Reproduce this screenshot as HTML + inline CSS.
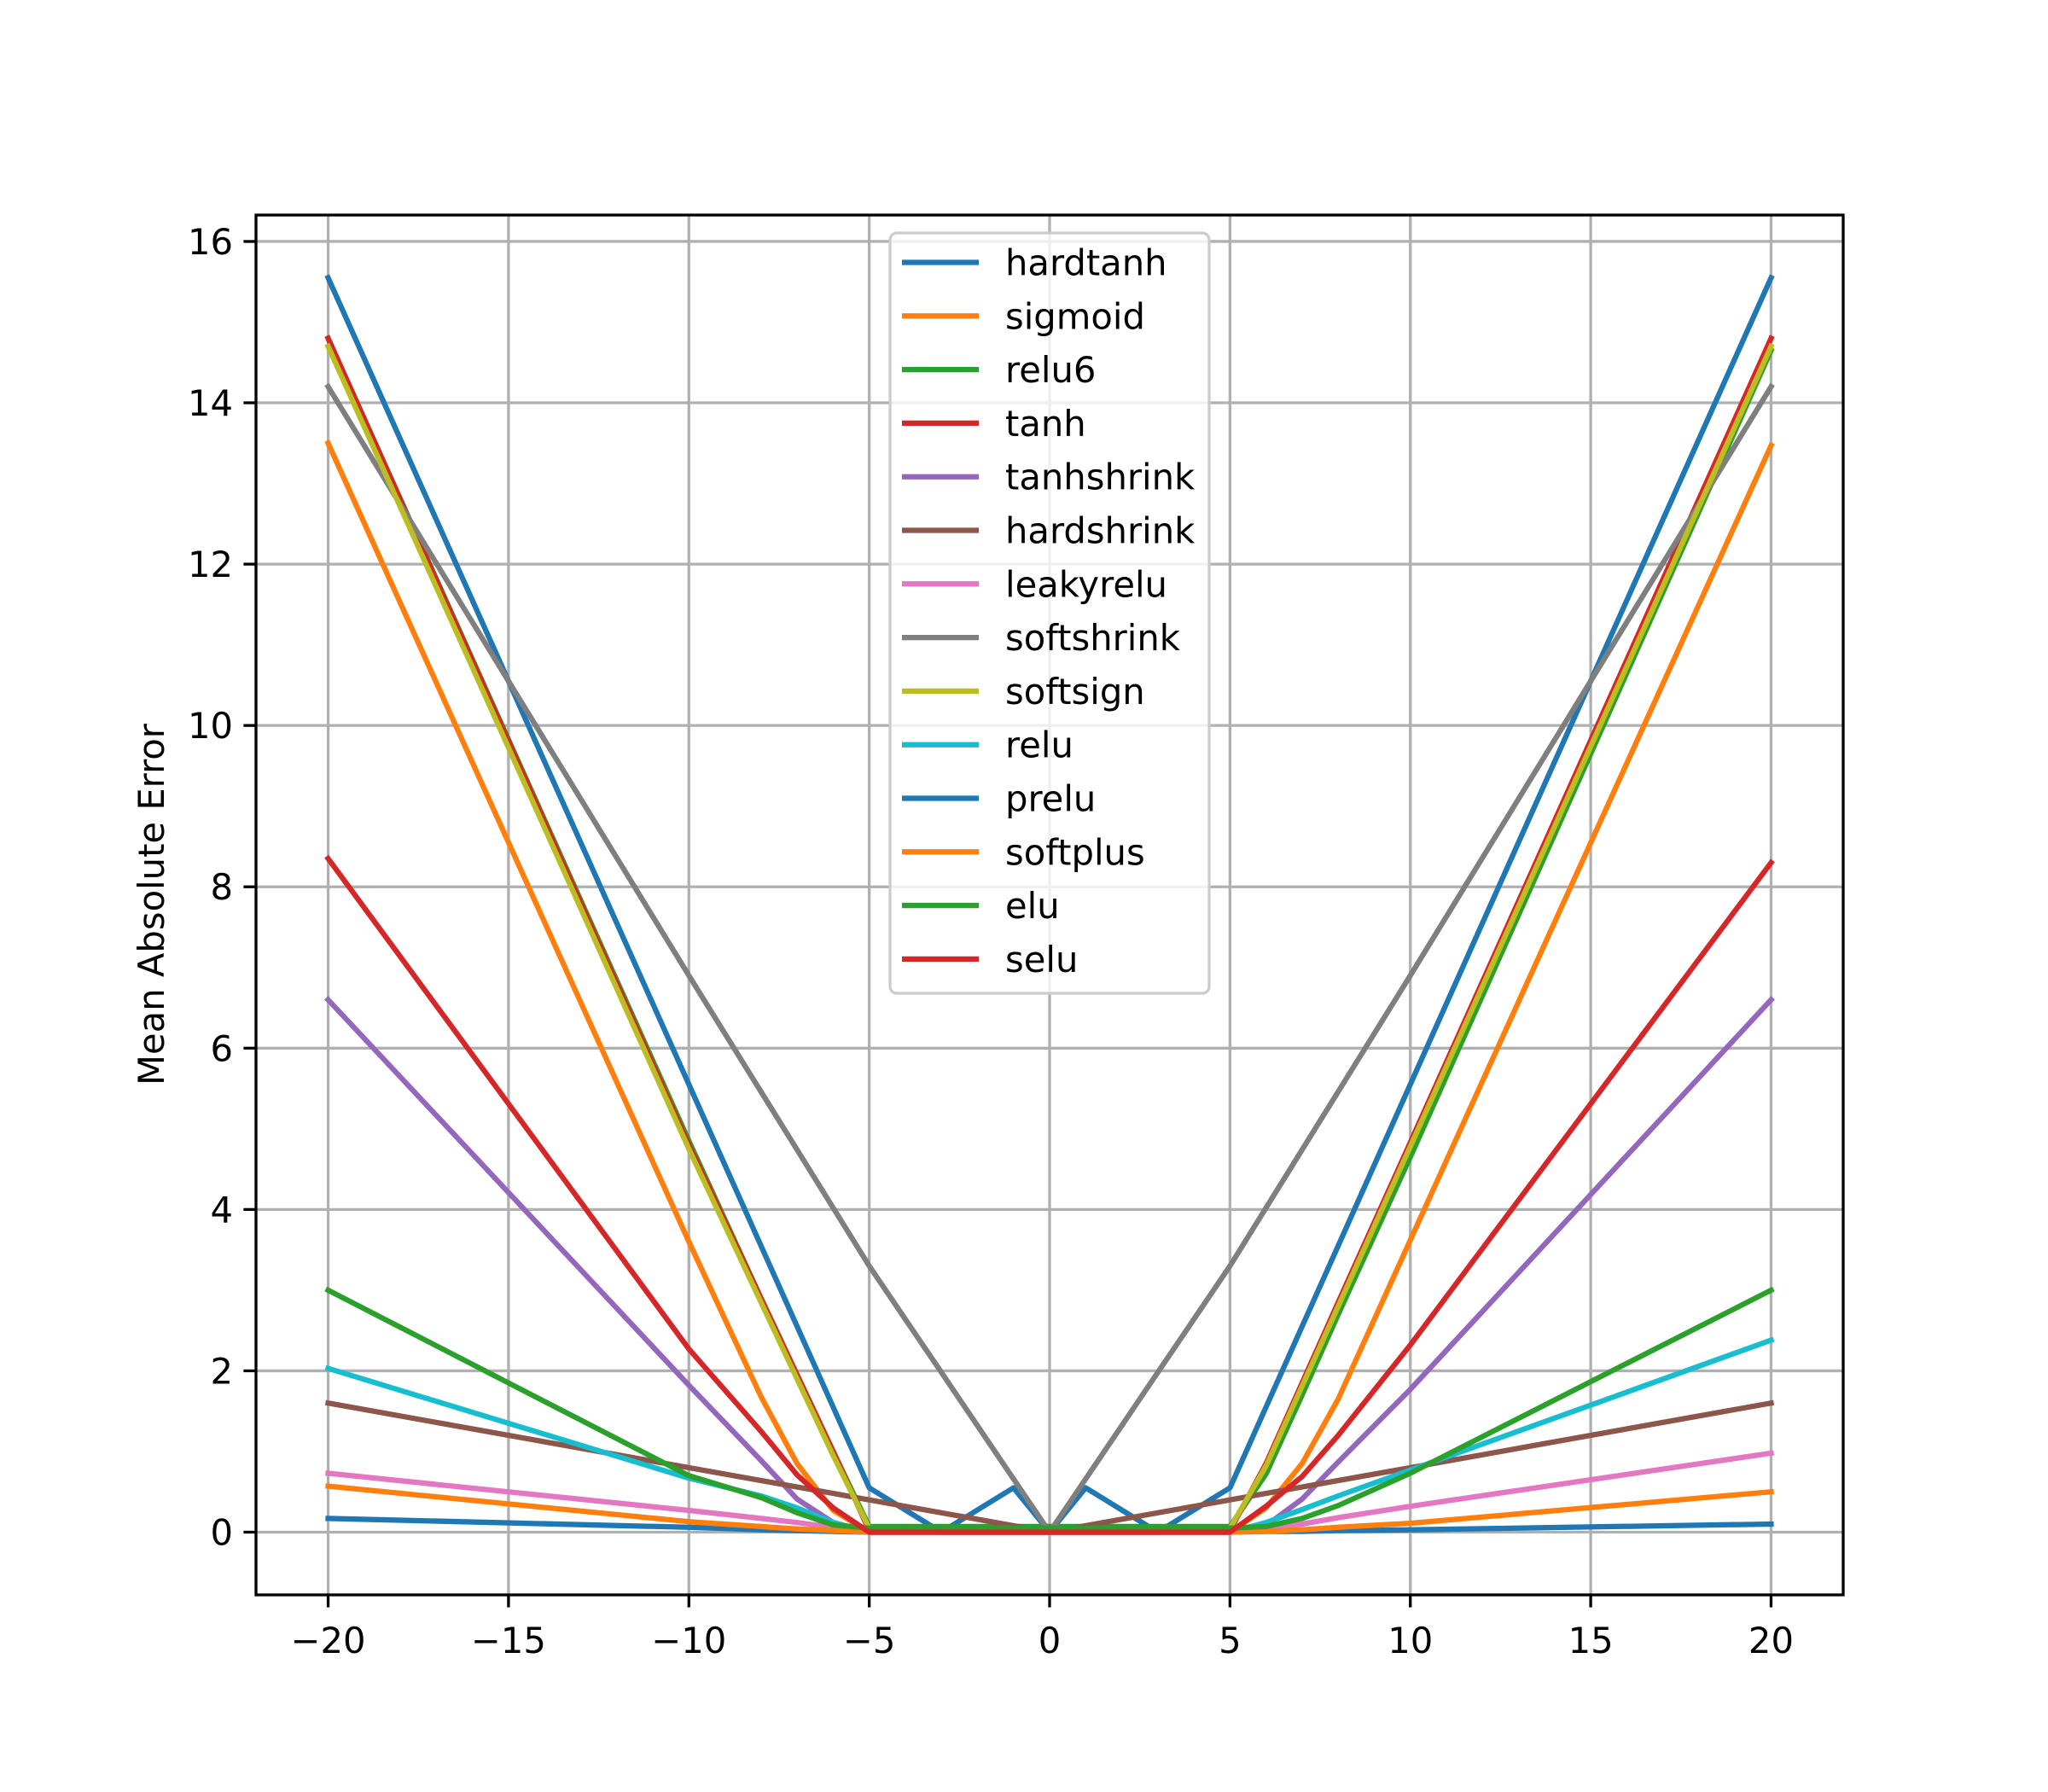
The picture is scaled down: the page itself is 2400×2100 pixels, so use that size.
<!DOCTYPE html>
<html><head><meta charset="utf-8">
<style>
html,body{margin:0;padding:0;background:#fff;}
svg{display:block;font-family:"DejaVu Sans","Liberation Sans",sans-serif;}
</style></head>
<body>
<svg id="chart" width="2400" height="2100" viewBox="0 0 2400 2100" xmlns="http://www.w3.org/2000/svg">
<rect x="0" y="0" width="2400" height="2100" fill="#fff"/>
<g id="grid"></g>
<g id="series"></g>
<rect x="300" y="252" width="1860" height="1617" fill="none" stroke="#000" stroke-width="3.3"/>
<g id="ticks"></g>
<text x="192" y="1060" font-size="41.7" text-anchor="middle" transform="rotate(-90 192 1060)">Mean Absolute Error</text>
<g id="legend"></g>
</svg>
<script>
const xVals = [-20,-10,-8,-7,-6,-5,-3,-1,0,1,3,5,6,7,8,10,20];
const seriesNames = ["hardtanh","sigmoid","relu6","tanh","tanhshrink","hardshrink","leakyrelu","softshrink","softsign","relu","prelu","softplus","elu","selu"];
const seriesColors = ["#1f77b4","#ff7f0e","#2ca02c","#d62728","#9467bd","#8c564b","#e377c2","#7f7f7f","#bcbd22","#17becf","#1f77b4","#ff7f0e","#2ca02c","#d62728"];
const hardtanhVals = [15.55,5.55,3.55,2.55,1.55,0.55,0,0.55,0,0.55,0,0.55,1.55,2.55,3.55,5.55,15.55];
const sigmoidVals = [13.5,3.6,1.68,0.85,0.27,0,0,0,0,0,0,0,0.3,0.85,1.65,3.62,13.47];
const relu6Vals = [14.8,4.85,2.9,1.95,1.0,0.07,0.07,0.07,0.07,0.07,0.07,0.07,0.72,1.7,2.7,4.65,14.65];
const tanhVals = [14.8,4.8,2.9,1.95,1.0,0.02,0,0,0,0,0,0.02,0.85,1.85,2.85,4.83,14.8];
const tanhshrinkVals = [6.6,1.82,0.89,0.41,0.12,0,0,0,0,0,0,0,0.08,0.41,0.87,1.77,6.6];
const hardshrinkVals = [1.6,0.8,0.64,0.56,0.48,0.4,0.24,0.08,0,0.08,0.24,0.4,0.48,0.56,0.64,0.8,1.6];
const leakyreluVals = [0.73,0.27,0.17,0.12,0.06,0,0,0,0,0,0,0,0.04,0.1,0.18,0.32,0.98];
const softshrinkVals = [14.2,6.9,5.46,4.74,4.02,3.3,1.98,0.66,0,0.66,1.98,3.3,4.02,4.74,5.46,6.9,14.2];
const softsignVals = [14.7,4.75,2.85,1.9,0.95,0.05,0.02,0.02,0.02,0.02,0.02,0.05,0.82,1.81,2.8,4.78,14.7];
const reluVals = [2.03,0.67,0.45,0.3,0.12,0,0,0,0,0,0,0,0.12,0.28,0.45,0.77,2.38];
const preluVals = [0.17,0.06,0.03,0.02,0.01,0,0,0,0,0,0,0,0.01,0.01,0.02,0.03,0.1];
const softplusVals = [0.57,0.13,0.07,0.04,0.02,0,0,0,0,0,0,0,0.01,0.03,0.06,0.11,0.5];
const eluVals = [3.0,0.7,0.43,0.24,0.09,0.05,0.05,0.05,0.05,0.05,0.05,0.05,0.07,0.17,0.33,0.73,3.0];
const seluVals = [8.35,2.27,1.25,0.71,0.3,0,0,0,0,0,0,0,0.32,0.69,1.2,2.32,8.3];
const xTicks = [-20,-15,-10,-5,0,5,10,15,20];
const yTicks = [0,2,4,6,8,10,12,14,16];

const allSeries = [hardtanhVals,sigmoidVals,relu6Vals,tanhVals,tanhshrinkVals,hardshrinkVals,leakyreluVals,softshrinkVals,softsignVals,reluVals,preluVals,softplusVals,eluVals,seluVals];
const NS = "http://www.w3.org/2000/svg";
const L = 300, R = 2160, T = 252, B = 1869;
const xMinD = Math.min(...xVals), xMaxD = Math.max(...xVals);
let yMaxD = -Infinity, yMinD = Infinity;
allSeries.forEach(s => s.forEach(v => { yMaxD = Math.max(yMaxD, v); yMinD = Math.min(yMinD, v); }));
const xPad = (xMaxD - xMinD) * 0.05, yPad = (yMaxD - yMinD) * 0.05;
const x0 = xMinD - xPad, x1 = xMaxD + xPad, y0 = yMinD - yPad, y1 = yMaxD + yPad;
function sx(v){ return L + (v - x0) / (x1 - x0) * (R - L); }
function sy(v){ return B - (v - y0) / (y1 - y0) * (B - T); }
function mk(tag, attrs, parent){ const e = document.createElementNS(NS, tag); for (const k in attrs) e.setAttribute(k, attrs[k]); parent.appendChild(e); return e; }
function fmt(v){ return v < 0 ? "\u2212" + Math.abs(v) : String(v); }

const grid = document.getElementById("grid");
const ticks = document.getElementById("ticks");
xTicks.forEach(t => {
  const X = sx(t);
  const g = mk("line", {x1:X, x2:X, y1:T, y2:B, stroke:"#b0b0b0", "stroke-width":3.3}, grid);
  
  
  const tk = mk("line", {x1:X, x2:X, y1:B, y2:B+14.6, stroke:"#000", "stroke-width":3.3}, ticks);
  
  
  const lb = mk("text", {x:X, y:B+68, "font-size":41.7, "text-anchor":"middle"}, ticks);
  lb.textContent = fmt(t);
  
  
});
yTicks.forEach(t => {
  const Y = sy(t);
  const g = mk("line", {x1:L, x2:R, y1:Y, y2:Y, stroke:"#b0b0b0", "stroke-width":3.3}, grid);
  
  
  const tk = mk("line", {x1:L-14.6, x2:L, y1:Y, y2:Y, stroke:"#000", "stroke-width":3.3}, ticks);
  
  
  const lb = mk("text", {x:L-27, y:Y+15, "font-size":41.7, "text-anchor":"end"}, ticks);
  lb.textContent = fmt(t);
  
  
});

const seriesG = document.getElementById("series");
allSeries.forEach((s, i) => {
  const pts = s.map((v, j) => sx(xVals[j]).toFixed(1) + "," + sy(v).toFixed(1)).join(" ");
  const pl = mk("polyline", {points:pts, fill:"none", stroke:seriesColors[i], "stroke-width":6.25, "stroke-linejoin":"round", "stroke-linecap":"square"}, seriesG);
  
  
});

const leg = document.getElementById("legend");
const box = mk("rect", {x:1043, y:273, width:374, height:891, rx:8, fill:"#fff", "fill-opacity":0.8, stroke:"#cccccc", "stroke-width":3.3}, leg);


seriesNames.forEach((n, i) => {
  const Y = 307.5 + i * 62.8;
  const ln = mk("line", {x1:1057, x2:1147, y1:Y, y2:Y, stroke:seriesColors[i], "stroke-width":6.25}, leg);
  
  
  const tx = mk("text", {x:1178, y:Y+15, "font-size":41.7}, leg);
  tx.textContent = n;
  
  
});
</script>
</body></html>
